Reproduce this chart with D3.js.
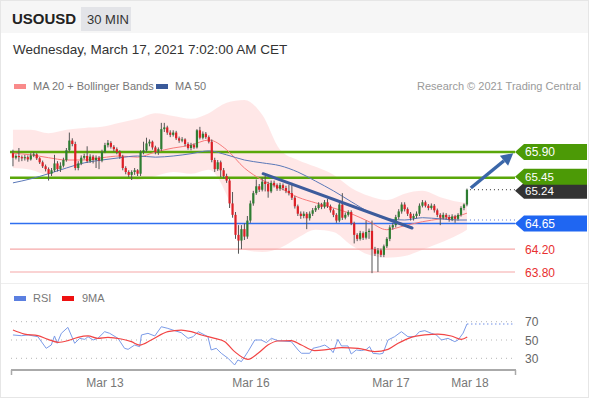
<!DOCTYPE html>
<html><head><meta charset="utf-8">
<script src="https://cdn.jsdelivr.net/npm/d3@7/dist/d3.min.js"></script>
<style>
html,body{margin:0;padding:0;background:#fff;}
svg{display:block;font-family:"Liberation Sans",Arial,sans-serif;}
</style></head>
<body><svg id="c" width="590" height="400"></svg>
<script>
// ---- data ----
const open = [65.88,65.80,65.83,65.81,65.79,65.81,65.77,65.84,65.86,65.79,
65.72,65.65,65.60,65.52,65.58,65.70,65.60,65.66,65.76,65.93,
66.10,66.04,65.62,65.70,65.80,65.83,65.74,65.82,65.76,65.80,
65.75,65.90,66.02,66.06,65.99,65.95,65.90,65.82,65.62,65.55,
65.50,65.55,65.58,65.52,65.90,65.93,66.05,66.08,65.98,65.90,
65.95,66.30,66.33,66.24,66.20,66.24,66.14,66.10,66.12,66.04,
65.97,66.02,65.98,66.28,66.15,66.22,66.16,66.08,65.76,65.60,
65.72,65.58,65.48,65.40,65.00,64.80,64.45,64.35,64.55,64.42,
64.70,65.00,65.18,65.30,65.24,65.38,65.34,65.21,65.36,65.32,
65.26,65.32,65.27,65.22,65.18,65.10,64.95,64.82,64.78,64.82,
64.74,64.82,64.88,64.92,64.98,64.94,65.02,64.95,64.88,64.80,
64.70,64.98,64.75,64.80,64.85,64.65,64.45,64.38,64.48,64.40,
64.50,64.52,64.20,64.12,64.18,64.10,64.25,64.38,64.58,64.62,
64.76,64.86,64.98,64.90,64.82,64.74,64.78,64.82,64.96,65.02,
64.96,64.92,64.96,64.88,64.80,64.75,64.80,64.76,64.72,64.77,
64.73,64.80,64.92,64.98];
const close = [65.80,65.83,65.81,65.79,65.81,65.77,65.84,65.86,65.79,65.72,
65.65,65.60,65.52,65.58,65.70,65.60,65.66,65.76,65.93,66.10,
66.04,65.62,65.70,65.80,65.83,65.74,65.82,65.76,65.80,65.75,
65.90,66.02,66.06,65.99,65.95,65.90,65.82,65.62,65.55,65.50,
65.55,65.58,65.52,65.90,65.93,66.05,66.08,65.98,65.90,65.95,
66.30,66.33,66.24,66.20,66.24,66.14,66.10,66.12,66.04,65.97,
66.02,65.98,66.28,66.15,66.22,66.16,66.08,65.76,65.60,65.72,
65.58,65.48,65.40,65.00,64.80,64.45,64.35,64.55,64.42,64.70,
65.00,65.18,65.30,65.24,65.38,65.34,65.21,65.36,65.32,65.26,
65.32,65.27,65.22,65.18,65.10,64.95,64.82,64.78,64.82,64.74,
64.82,64.88,64.92,64.98,64.94,65.02,64.95,64.88,64.80,64.70,
64.98,64.75,64.80,64.85,64.65,64.45,64.38,64.48,64.40,64.50,
64.52,64.20,64.12,64.18,64.10,64.25,64.38,64.58,64.62,64.76,
64.86,64.98,64.90,64.82,64.74,64.78,64.82,64.96,65.02,64.96,
64.92,64.96,64.88,64.80,64.75,64.80,64.76,64.72,64.77,64.73,
64.80,64.92,64.98,65.24];
const high = [65.94,65.86,65.97,65.84,65.85,65.84,65.88,65.90,65.88,65.81,
65.75,65.68,65.63,65.62,65.85,65.74,65.72,65.80,65.97,66.24,
66.14,66.08,65.74,65.84,65.87,66.00,65.86,65.85,65.84,65.83,
65.94,66.06,66.11,66.09,66.02,65.98,65.93,65.85,65.65,65.58,
65.58,65.62,65.60,65.93,66.08,66.15,66.12,66.10,66.01,65.98,
66.41,66.41,66.36,66.28,66.28,66.27,66.17,66.16,66.14,66.07,
66.06,66.05,66.30,66.34,66.26,66.25,66.19,66.12,65.80,65.76,
65.75,65.62,65.52,65.44,65.20,64.85,64.62,64.62,64.65,64.78,
65.05,65.22,65.42,65.34,65.45,65.48,65.38,65.40,65.40,65.35,
65.36,65.35,65.31,65.33,65.36,65.13,64.98,64.86,64.86,64.85,
64.86,64.92,64.96,65.02,65.01,65.06,65.08,64.98,64.91,64.83,
65.02,65.18,64.84,64.88,64.88,64.68,64.48,64.52,64.51,64.70,
64.56,64.70,64.24,64.22,64.21,64.28,64.41,64.62,64.66,64.80,
64.90,65.02,65.02,64.93,64.85,64.82,64.86,65.00,65.06,65.05,
64.99,65.00,64.99,64.91,64.83,64.84,64.83,64.80,64.81,64.80,
64.83,64.95,65.00,65.26];
const low = [65.65,65.77,65.73,65.74,65.75,65.73,65.75,65.81,65.76,65.69,
65.62,65.56,65.40,65.48,65.55,65.56,65.55,65.63,65.73,65.90,
66.00,65.58,65.58,65.67,65.77,65.71,65.71,65.70,65.62,65.60,
65.72,65.88,65.98,65.96,65.91,65.86,65.78,65.58,65.51,65.46,
65.41,65.50,65.48,65.48,65.86,65.90,66.00,65.94,65.86,65.85,
65.92,66.25,66.20,66.16,66.17,66.11,66.06,66.07,66.00,65.94,
65.93,65.95,65.96,66.12,66.12,66.13,66.05,65.72,65.55,65.57,
65.46,65.44,65.36,64.92,64.75,64.38,64.12,64.20,64.36,64.38,
64.66,64.96,65.15,65.20,65.21,65.21,65.10,65.18,65.28,65.22,
65.22,65.23,65.18,65.14,65.06,64.91,64.78,64.73,64.74,64.55,
64.70,64.78,64.85,64.89,64.90,64.91,64.92,64.84,64.76,64.66,
64.67,64.71,64.72,64.77,64.62,64.30,64.34,64.35,64.36,64.37,
64.38,63.78,64.08,63.80,64.06,64.06,64.22,64.34,64.54,64.58,
64.72,64.82,64.86,64.78,64.70,64.70,64.74,64.78,64.93,64.93,
64.88,64.89,64.84,64.76,64.62,64.72,64.72,64.68,64.69,64.66,
64.70,64.77,64.88,64.95];

// indicator readings (sampled at candle indices)
const indIdx   = [0,6,12,18,24,30,36,42,48,54,60,66,72,78,84,90,96,102,108,114,120,126,132,138,144,150,153];
const bbUpper  = [66.29,66.29,66.23,66.29,66.32,66.34,66.41,66.48,66.58,66.53,66.48,66.58,66.76,66.81,66.55,65.94,65.76,65.64,65.50,65.27,65.13,65.06,65.17,65.22,65.11,65.03,65.01];
const bbLower  = [65.62,65.59,65.48,65.41,65.41,65.43,65.45,65.41,65.48,65.55,65.52,65.59,65.15,64.19,64.15,64.22,64.40,64.54,64.50,64.27,64.10,64.05,64.08,64.19,64.31,64.45,64.54];
const ma20     = [65.88,65.85,65.80,65.76,65.76,65.80,65.83,65.81,65.90,65.97,66.02,66.11,65.94,65.62,65.41,65.27,65.11,65.01,64.92,64.82,64.68,64.54,64.61,64.68,64.73,64.78,64.83];
const ma50     = [65.36,65.43,65.52,65.62,65.71,65.76,65.80,65.83,65.81,65.83,65.87,65.92,65.85,65.76,65.71,65.66,65.55,65.39,65.22,65.03,64.85,64.73,64.71,64.75,64.73,64.71,64.71];

// levels
const resistLevels = [65.90, 65.45];
const pivotLevel = 64.65;
const supportLevels = [64.20, 63.80];
const lastPrice = 65.24;
const trendLine = [[84.3, 65.52], [134.5, 64.57]];
const arrowPts = [[154.3, 65.27], [168.6, 65.88]];

// RSI readings [candle index, value]
const rsi = [[0,55.5],[2.8,54.7],[5.1,55.5],[8.4,53.6],[11.2,40.9],[12.9,44.5],[14,54.4],[14.9,46.4],[16.3,57.3],[18.5,63.8],
[20.8,46.4],[22.5,51.8],[24.2,50.7],[25.3,53.6],[27,50],[28.6,51.8],[30.9,59.1],[32.6,57.3],[35.4,51.8],[37.6,40.9],
[38.8,39.8],[41,44.5],[42.7,42.7],[43.3,55.5],[45.5,57.3],[47.8,54.4],[50,64.5],[52.2,62.7],[54.5,60.2],[56.7,58],
[59,51.8],[60.7,53.6],[62.4,59.1],[64.6,55.5],[65.7,53.6],[66.8,39.1],[68.5,40.9],[70.2,35.5],[72.5,30],[74.7,22.7],
[75.8,28.2],[77,26.4],[79.2,37.3],[81.5,50],[83.7,50],[85.4,47.1],[87.1,51.8],[89.3,49.3],[93.8,48.2],[96.1,39.1],
[97.2,35.5],[100,35.5],[101.1,40.9],[103.4,42.7],[105.1,44.5],[106.7,40.9],[107.9,36.2],[109.5,50.7],[110.7,43.5],[112.9,43.5],
[114,34.7],[115.7,39.1],[117.4,38.4],[119.1,39.8],[120.2,42.7],[121.3,35.5],[123.6,34.7],[124.7,35.5],[126.4,50],[128.6,53.6],
[130.9,59.1],[133.1,53.6],[135.4,53.6],[137,59.1],[138.8,60.2],[141,57.3],[142.7,55.5],[144.4,50],[146.6,51.8],[148.9,48.2],
[150,50],[151.7,57.5],[153,67.5]];
const rsiMA = [[0,60.9],[3.9,56.5],[8.4,54.7],[11.8,50.7],[15.2,47.5],[18.5,49.3],[21.9,52.9],[25.3,54.4],[28.6,51.8],[32,52.9],
[36.5,51.1],[39.9,48.2],[42.7,44.5],[46.6,50],[52.2,59.1],[56.7,60.9],[60.1,59.1],[63.5,55.5],[68,51.8],[71.4,48.2],
[74.7,37.3],[79.2,28.9],[82.6,35.5],[85.9,44.5],[89.3,48.9],[93.8,49.3],[97.2,44.5],[101.7,38.4],[106.2,39.8],[110.7,41.6],
[116.3,40.9],[121.9,37.3],[126.4,39.8],[129.8,46.4],[134.2,52.9],[138.8,55.5],[143.2,56.5],[147.7,54.4],[151.1,50.7],[153.1,53.3]];
const rsiTicks = [70, 50, 30];
const dayTicks = [[31, "Mar 13"], [80.2, "Mar 16"], [127.4, "Mar 17"], [154, "Mar 18"]];

// ---- drawing ----
const svg = d3.select("#c");
const x = d3.scaleLinear().domain([-1, 170]).range([10, 517.4]);
const y = d3.scaleLinear().domain([63.80, 65.90]).range([272, 152]);
const yr = d3.scaleLinear().domain([30, 70]).range([358.3, 321.7]);
const L = 10, R = 515;

// frame & header
svg.append("rect").attr("x",0.5).attr("y",0.5).attr("width",588).attr("height",397).attr("fill","#fff").attr("stroke","#e6e6e6");
svg.append("rect").attr("x",1).attr("y",1).attr("width",587).attr("height",32).attr("fill","#f6f6f6");
svg.append("rect").attr("x",81).attr("y",7).attr("width",50).attr("height",24).attr("fill","#e3e4e8");
svg.append("text").attr("x",12).attr("y",24).attr("font-size",15).attr("font-weight","bold").attr("fill","#222").text("USOUSD");
svg.append("text").attr("x",87).attr("y",24).attr("font-size",13).attr("fill","#333").text("30 MIN");
svg.append("text").attr("x",13).attr("y",54).attr("font-size",13.5).attr("fill","#333").text("Wednesday, March 17, 2021 7:02:00 AM CET");
svg.append("line").attr("x1",1).attr("x2",588).attr("y1",283.5).attr("y2",283.5).attr("stroke","#eeeeee");

// legend
const lg = svg.append("g").attr("font-size",11).attr("fill","#777");
lg.append("rect").attr("x",14).attr("y",84).attr("width",12).attr("height",5).attr("fill","#f98a8a");
lg.append("text").attr("x",33).attr("y",90).text("MA 20 + Bollinger Bands");
lg.append("rect").attr("x",156).attr("y",84).attr("width",12).attr("height",5).attr("fill","#3a5a9a");
lg.append("text").attr("x",175).attr("y",90).text("MA 50");
svg.append("text").attr("x",581).attr("y",90).attr("font-size",11).attr("fill","#9a9a9a").attr("text-anchor","end").text("Research \u00a9 2021 Trading Central");

// bollinger bands
const bb = indIdx.map((d,i)=>({i:d,u:bbUpper[i],l:bbLower[i],m:ma20[i],m50:ma50[i]}));
svg.append("path").datum(bb).attr("fill","#ffe3e3").attr("opacity",0.85)
  .attr("d", d3.area().curve(d3.curveMonotoneX).x(d=>x(d.i)).y0(d=>y(d.l)).y1(d=>y(d.u)));

// levels
resistLevels.forEach(v=>{
  svg.append("line").attr("x1",L).attr("x2",R).attr("y1",y(v)).attr("y2",y(v)).attr("stroke","#5aa70a").attr("stroke-width",2.6);
});
svg.append("line").attr("x1",L).attr("x2",R).attr("y1",y(pivotLevel)).attr("y2",y(pivotLevel)).attr("stroke","#2f6ff0").attr("stroke-width",1.5);
supportLevels.forEach(v=>{
  svg.append("line").attr("x1",L).attr("x2",R).attr("y1",y(v)).attr("y2",y(v)).attr("stroke","#f6a8a8").attr("stroke-width",1.2);
});

// MA lines
svg.append("path").datum(bb).attr("fill","none").attr("stroke","#f77b7b").attr("stroke-width",1)
  .attr("d", d3.line().curve(d3.curveMonotoneX).x(d=>x(d.i)).y(d=>y(d.m)));
svg.append("path").datum(bb).attr("fill","none").attr("stroke","#5a78b8").attr("stroke-width",1)
  .attr("d", d3.line().curve(d3.curveMonotoneX).x(d=>x(d.i)).y(d=>y(d.m50)));

// candles
const candles = close.map((c,i)=>({i,o:open[i],h:high[i],l:low[i],c}));
const cg = svg.append("g");
cg.selectAll("line").data(candles).join("line")
  .attr("x1",d=>x(d.i)).attr("x2",d=>x(d.i)).attr("y1",d=>y(d.h)).attr("y2",d=>y(d.l))
  .attr("stroke","#555").attr("stroke-width",1);
cg.selectAll("rect").data(candles).join("rect")
  .attr("x",d=>x(d.i)-1.1).attr("width",2.2)
  .attr("y",d=>y(Math.max(d.o,d.c))).attr("height",d=>Math.max(1,Math.abs(y(d.o)-y(d.c))))
  .attr("fill",d=>d.c>=d.o?"#2e7d32":"#dd1f26");

// trend line
svg.append("line").attr("x1",x(trendLine[0][0])).attr("y1",y(trendLine[0][1]))
  .attr("x2",x(trendLine[1][0])).attr("y2",y(trendLine[1][1]))
  .attr("stroke","#3d5c9c").attr("stroke-width",3).attr("stroke-linecap","round");

// dotted extensions
const lastX = x(close.length-1);
svg.append("line").attr("x1",lastX+3).attr("x2",R).attr("y1",y(lastPrice)).attr("y2",y(lastPrice))
  .attr("stroke","#333").attr("stroke-width",1).attr("stroke-dasharray","1,3");
svg.append("line").attr("x1",lastX+3).attr("x2",R).attr("y1",y(ma50[ma50.length-1])).attr("y2",y(ma50[ma50.length-1]))
  .attr("stroke","#5a78d8").attr("stroke-width",1).attr("stroke-dasharray","1,3");

// arrow
const ax0 = x(arrowPts[0][0]), ay0 = y(arrowPts[0][1]), ax1 = x(arrowPts[1][0]), ay1 = y(arrowPts[1][1]);
const ang = Math.atan2(ay1-ay0, ax1-ax0);
const hl = 12, hw = 6.5;
const bx = ax1 - hl*Math.cos(ang), by = ay1 - hl*Math.sin(ang);
svg.append("line").attr("x1",ax0).attr("y1",ay0).attr("x2",bx).attr("y2",by).attr("stroke","#3a66a8").attr("stroke-width",3.5);
svg.append("path").attr("fill","#3a66a8")
  .attr("d",`M${ax1},${ay1}L${bx+hw*Math.sin(ang)},${by-hw*Math.cos(ang)}L${bx-hw*Math.sin(ang)},${by+hw*Math.cos(ang)}Z`);

// price tags
function tag(v, color, dy, fs){
  const cy = y(v) + (dy||0);
  svg.append("path").attr("fill",color)
    .attr("d",`M${R},${cy}L${R+9},${cy-8}L587,${cy-8}L587,${cy+8}L${R+9},${cy+8}Z`);
  svg.append("text").attr("x",R+10).attr("y",cy+4.2).attr("font-size",fs||12).attr("fill","#fff").text(v.toFixed(2));
}
tag(lastPrice, "#333333", 1, 11.5);
tag(resistLevels[0], "#4c9a06");
tag(resistLevels[1], "#4c9a06", -1, 11.5);
tag(pivotLevel, "#1f66f2");
supportLevels.forEach(v=>{
  svg.append("text").attr("x",R+10).attr("y",y(v)+4.5).attr("font-size",12).attr("fill","#e83030").text(v.toFixed(2));
});

// RSI panel
const rl = svg.append("g").attr("font-size",11).attr("fill","#777");
rl.append("rect").attr("x",14).attr("y",296).attr("width",12).attr("height",5).attr("fill","#5b7fe0");
rl.append("text").attr("x",33).attr("y",302).text("RSI");
rl.append("rect").attr("x",62).attr("y",296).attr("width",12).attr("height",5).attr("fill","#ee1111");
rl.append("text").attr("x",82).attr("y",302).text("9MA");

rsiTicks.forEach(t=>{
  svg.append("line").attr("x1",L+1).attr("x2",R).attr("y1",yr(t)).attr("y2",yr(t))
    .attr("stroke","#b5b5b5").attr("stroke-width",1).attr("stroke-dasharray","1,4");
  svg.append("text").attr("x",R+10).attr("y",yr(t)+4.5).attr("font-size",12).attr("fill","#666").text(t);
});
svg.append("path").datum(rsi).attr("fill","none").attr("stroke","#7b9be8").attr("stroke-width",1)
  .attr("d", d3.line().x(d=>x(d[0])).y(d=>yr(d[1])));
svg.append("path").datum(rsiMA).attr("fill","none").attr("stroke","#f24545").attr("stroke-width",1.2)
  .attr("d", d3.line().curve(d3.curveMonotoneX).x(d=>x(d[0])).y(d=>yr(d[1])));
const lastR = rsi[rsi.length-1];
svg.append("line").attr("x1",x(lastR[0])).attr("x2",R).attr("y1",yr(lastR[1])).attr("y2",yr(lastR[1]))
  .attr("stroke","#6f8fe8").attr("stroke-width",1.2).attr("stroke-dasharray","1.5,2.5");

// x axis
const xa = d3.scaleLinear().domain(x.domain()).range(x.range());
const axisG = svg.append("g").attr("transform","translate(0,370)");
axisG.append("line").attr("x1",L+1).attr("x2",R+1).attr("y1",0).attr("y2",0).attr("stroke","#aaa").attr("stroke-width",2);
axisG.append("line").attr("x1",L+1.5).attr("x2",L+1.5).attr("y1",0).attr("y2",5).attr("stroke","#aaa").attr("stroke-width",1.5);
axisG.append("line").attr("x1",R+0.5).attr("x2",R+0.5).attr("y1",0).attr("y2",5).attr("stroke","#aaa").attr("stroke-width",1.5);
axisG.selectAll("text.t").data(dayTicks).join("text").attr("class","t")
  .attr("x",d=>xa(d[0])).attr("y",17).attr("text-anchor","middle").attr("font-size",12).attr("fill","#777").text(d=>d[1]);
</script></body></html>
